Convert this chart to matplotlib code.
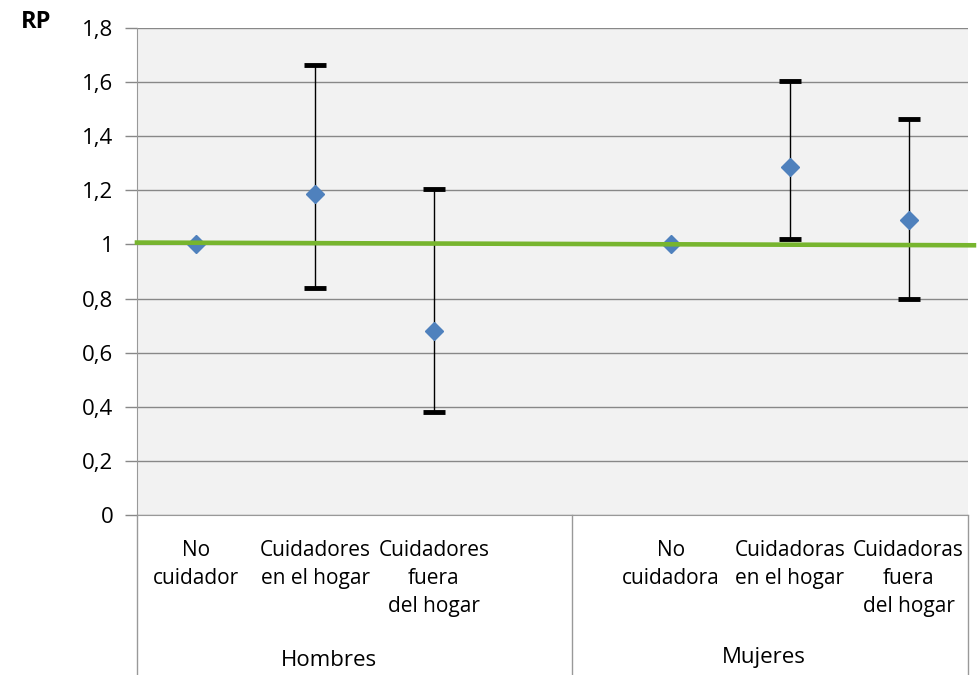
import matplotlib.pyplot as plt
import numpy as np

plt.rcParams['font.family'] = ['Open Sans', 'DejaVu Sans']

# categories (blank slot between groups)
labels = ['No\ncuidador', 'Cuidadores\nen el hogar', 'Cuidadores\nfuera\ndel hogar', '',
          'No\ncuidadora', 'Cuidadoras\nen el hogar', 'Cuidadoras\nfuera\ndel hogar']
groups = ['Hombres', 'Mujeres']
rp = [1.0, 1.185, 0.68, np.nan, 1.0, 1.285, 1.09]
ci_low = [np.nan, 0.84, 0.38, np.nan, np.nan, 1.02, 0.80]
ci_high = [np.nan, 1.665, 1.205, np.nan, np.nan, 1.605, 1.465]
ref_line = [1.007, 0.997]
yticks = [0, 0.2, 0.4, 0.6, 0.8, 1, 1.2, 1.4, 1.6, 1.8]

x = np.arange(len(labels))
rp_a = np.array(rp)
lo = np.array(ci_low)
hi = np.array(ci_high)

fig = plt.figure(figsize=(9.77, 6.75), dpi=100)
ax = fig.add_axes([0.1402, 0.237, 0.8506, 0.7215])
ax.set_facecolor('#F2F2F2')

ax.set_ylim(0, 1.8)
ax.set_xlim(-0.5, 6.5)
ax.set_yticks(yticks)
ax.set_yticklabels([('%g' % v).replace('.', ',') for v in yticks], fontsize=16)
ax.tick_params(axis='y', length=9, color='#888888', width=1, pad=8)
ax.set_xticks([])
ax.grid(axis='y', color='#888888', linewidth=1)
ax.set_axisbelow(True)
for s in ['top', 'right']:
    ax.spines[s].set_visible(False)
ax.spines['left'].set_color('#999999')
ax.spines['bottom'].set_color('#999999')

mask = ~np.isnan(lo)
ax.errorbar(x[mask], rp_a[mask], yerr=[rp_a[mask] - lo[mask], hi[mask] - rp_a[mask]],
            fmt='none', ecolor='black', elinewidth=1, capsize=8, capthick=3.5, zorder=2)
ax.plot(x, rp_a, linestyle='none', marker='D', markersize=9.5,
        color='#4F81BD', zorder=3)
ax.plot([-0.5, 6.55], ref_line, color='#77B52E', linewidth=3.3, zorder=4, clip_on=False)

# category labels
for xi, lab in zip(x, labels):
    if lab:
        ax.text(xi, -0.092, lab, ha='center', va='top', fontsize=15, linespacing=1.45)
ax.text(1.12, -0.537, groups[0], ha='center', va='center', fontsize=16)
ax.text(4.78, -0.527, groups[1], ha='center', va='center', fontsize=16)

# group separators
for xv in [-0.5, 3.165, 6.5]:
    ax.plot([xv, xv], [0, -0.592], color='#999999', linewidth=1, clip_on=False)

fig.text(0.021, 0.967, 'RP', fontsize=17, fontweight='bold', va='center')

fig.savefig('out.png', dpi=100)
